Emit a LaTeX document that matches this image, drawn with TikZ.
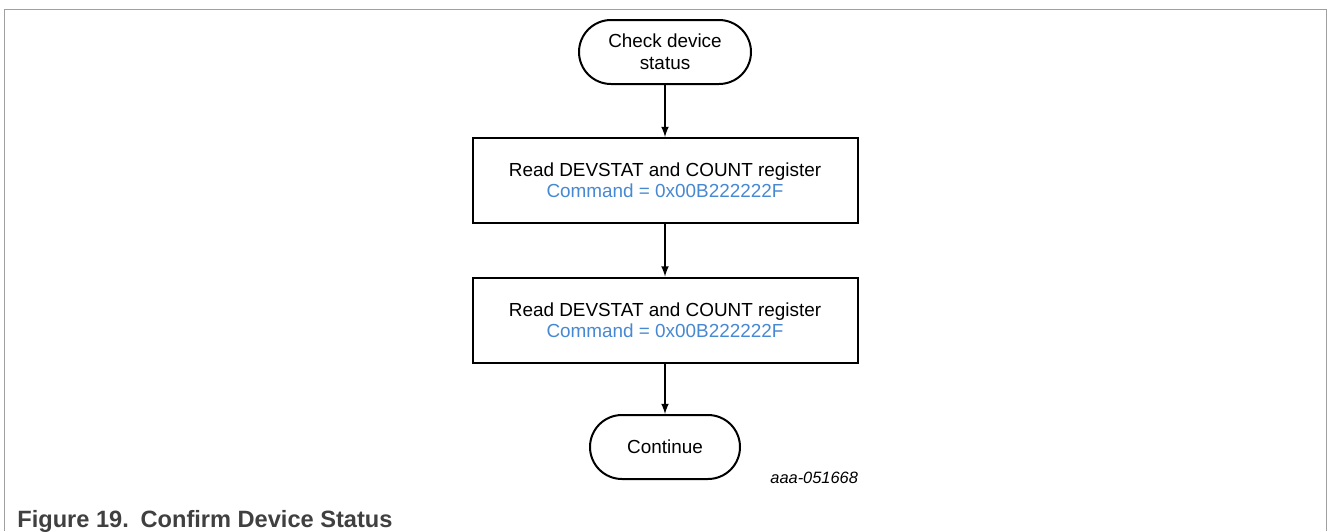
\documentclass[tikz,border=0pt]{standalone}
\usepackage{fontspec}
\setmainfont{Liberation Sans}
\usepackage{tikz}
\usetikzlibrary{positioning}
\usetikzlibrary{arrows}
\definecolor{cmdblue}{RGB}{70,136,210}
\definecolor{framegray}{RGB}{160,160,160}
\definecolor{capgray}{RGB}{64,64,64}

\begin{document}
\begin{tikzpicture}[x=0.5pt,y=-0.5pt,
    term/.style={rectangle,draw,line width=1pt,rounded corners=16pt,minimum height=32pt,align=center,inner sep=0pt,font=\fontsize{9.45}{11}\selectfont},
    proc/.style={rectangle,draw,line width=1pt,minimum width=192.5pt,minimum height=42.5pt,align=center,inner sep=0pt,font=\fontsize{9.45}{10.5}\selectfont}]

		  \useasboundingbox (0,0) rectangle (1328,531);

		  % Rahmen
		  \draw[framegray,line width=0.75pt] (4.5,531) -- (4.5,9.5) -- (1326.5,9.5) -- (1326.5,531);

		  % Ablauf
		  \node[term,minimum width=86pt] (chk) at (665,52) {Check device\\status};
		  \node[proc] (rd1) [below=64.25pt of chk.center,anchor=center] {Read DEVSTAT and COUNT register\\\textcolor{cmdblue}{Command = 0x00B222222F}};
		  \node[proc] (rd2) [below=69.75pt of rd1.center,anchor=center] {Read DEVSTAT and COUNT register\\\textcolor{cmdblue}{Command = 0x00B222222F}};
		  \node[term,minimum width=75pt] (cont) [below=63.5pt of rd2.center,anchor=center] {Continue};

		  \node[inner sep=0pt,font=\fontsize{8.2}{10}\selectfont\itshape] (id) [right=14.5pt of cont.south east,anchor=base west,yshift=-1.5pt] {aaa-051668};

		  \node[inner sep=0pt,anchor=base west,text=capgray,font=\fontsize{11.8}{14}\selectfont\bfseries] (cap) at (17,527) {Figure 19.\enspace Confirm Device Status};

		  \path[->,>=latex,line width=0.75pt]
			(chk) edge (rd1)
			(rd1) edge (rd2)
			(rd2) edge (cont);

		\end{tikzpicture}
\end{document}
